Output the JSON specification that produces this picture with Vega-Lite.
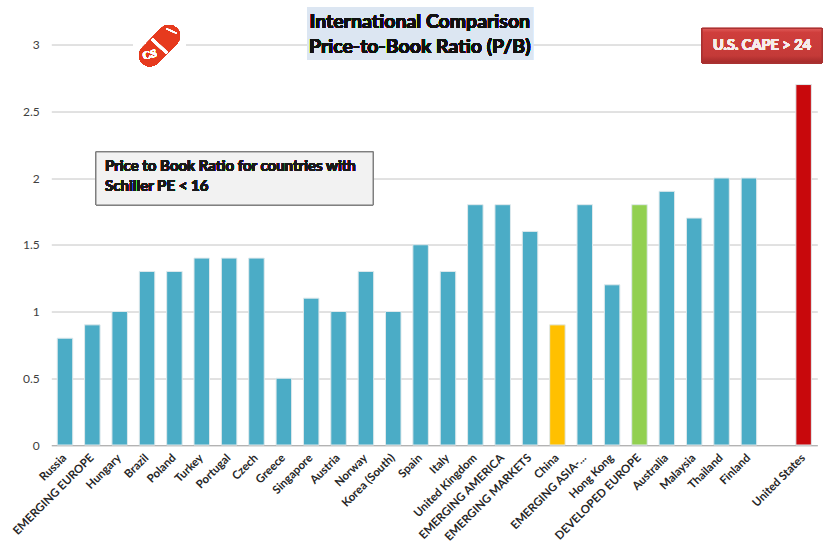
{
"$schema":"https://vega.github.io/schema/vega-lite/v6.json",
"width":766,"height":400.5,
"autosize":{"type":"none"},
"padding":{"left":51.3,"top":44.5,"right":22.7,"bottom":103},
"background":"white",
"config":{"view":{"stroke":null},"font":"Lato"},
"data":{"values":[
{"country":"Russia","pb":0.8,"group":"Country"},
{"country":"EMERGING EUROPE","pb":0.9,"group":"Country"},
{"country":"Hungary","pb":1.0,"group":"Country"},
{"country":"Brazil","pb":1.3,"group":"Country"},
{"country":"Poland","pb":1.3,"group":"Country"},
{"country":"Turkey","pb":1.4,"group":"Country"},
{"country":"Portugal","pb":1.4,"group":"Country"},
{"country":"Czech","pb":1.4,"group":"Country"},
{"country":"Greece","pb":0.5,"group":"Country"},
{"country":"Singapore","pb":1.1,"group":"Country"},
{"country":"Austria","pb":1.0,"group":"Country"},
{"country":"Norway","pb":1.3,"group":"Country"},
{"country":"Korea (South)","pb":1.0,"group":"Country"},
{"country":"Spain","pb":1.5,"group":"Country"},
{"country":"Italy","pb":1.3,"group":"Country"},
{"country":"United Kingdom","pb":1.8,"group":"Country"},
{"country":"EMERGING AMERICA","pb":1.8,"group":"Country"},
{"country":"EMERGING MARKETS","pb":1.6,"group":"Country"},
{"country":"China","pb":0.9,"group":"China"},
{"country":"EMERGING ASIA-...","pb":1.8,"group":"Country"},
{"country":"Hong Kong","pb":1.2,"group":"Country"},
{"country":"DEVELOPED EUROPE","pb":1.8,"group":"Developed Europe"},
{"country":"Australia","pb":1.9,"group":"Country"},
{"country":"Malaysia","pb":1.7,"group":"Country"},
{"country":"Thailand","pb":2.0,"group":"Country"},
{"country":"Finland","pb":2.0,"group":"Country"},
{"country":"United States","pb":2.7,"group":"United States"}
]},
"resolve":{"scale":{"x":"independent"}},
"layer":[
{"mark":{"type":"bar","width":15.5,"stroke":"#dfe9ec","strokeWidth":1},
 "encoding":{
  "x":{"field":"country","type":"nominal","sort":null,
   "scale":{"domain":["Russia","EMERGING EUROPE","Hungary","Brazil","Poland","Turkey","Portugal","Czech","Greece","Singapore","Austria","Norway","Korea (South)","Spain","Italy","United Kingdom","EMERGING AMERICA","EMERGING MARKETS","China","EMERGING ASIA-...","Hong Kong","DEVELOPED EUROPE","Australia","Malaysia","Thailand","Finland"," ","United States"],"paddingInner":0.43,"paddingOuter":0.215},
   "axis":{"title":null,"labelAngle":-45,"labelAlign":"right","labelBaseline":"middle","labelFontSize":11.5,"labelFontWeight":"bold","labelColor":"#262626","labelPadding":11,"labelLimit":200,"labelOverlap":false,"ticks":false,"domain":true,"domainColor":"#b3b3b3","domainWidth":1,"grid":false}},
  "y":{"field":"pb","type":"quantitative","scale":{"domain":[0,3],"nice":false},
   "axis":{"title":null,"values":[0,0.5,1,1.5,2,2.5,3],"labelFontSize":12,"labelColor":"#404040","labelPadding":12,"ticks":false,"domain":false,"grid":true,"gridColor":"#c4c4c4","gridWidth":1,"labelExpr":"datum.value"}},
  "color":{"field":"group","type":"nominal","legend":null,"scale":{"domain":["Country","China","Developed Europe","United States"],"range":["#4bacc6","#ffc000","#92d050","#c8080c"]}}
 }},
{"mark":{"type":"rect","fill":"#dce6f2"},"encoding":{
 "x":{"datum":9.35,"type":"quantitative","scale":{"domain":[0,28]},"axis":null},"x2":{"datum":17.61},
 "y":{"datum":3.281,"type":"quantitative","scale":{"domain":[0,3],"nice":false}},"y2":{"datum":2.884}}},
{"mark":{"type":"text","text":"International Comparison","font":"Lato","fontWeight":"bold","fontSize":19.5,"color":"#111111"},"encoding":{
 "x":{"datum":13.47,"type":"quantitative","scale":{"domain":[0,28]},"axis":null},
 "y":{"datum":3.169,"type":"quantitative","scale":{"domain":[0,3],"nice":false}}}},
{"mark":{"type":"text","text":"Price-to-Book Ratio (P/B)","font":"Lato","fontWeight":"bold","fontSize":19.5,"color":"#111111"},"encoding":{
 "x":{"datum":13.47,"type":"quantitative","scale":{"domain":[0,28]},"axis":null},
 "y":{"datum":2.982,"type":"quantitative","scale":{"domain":[0,3],"nice":false}}}},
{"mark":{"type":"rect","stroke":"#a83232","strokeWidth":1,"fill":{"gradient":"linear","x1":0,"y1":0,"x2":0,"y2":1,"stops":[{"offset":0,"color":"#e05a58"},{"offset":0.12,"color":"#cf3e3c"},{"offset":0.8,"color":"#c43a38"},{"offset":1,"color":"#a52a2a"}]}},"encoding":{
 "x":{"datum":23.79,"type":"quantitative","scale":{"domain":[0,28]},"axis":null},"x2":{"datum":28.17},
 "y":{"datum":3.12,"type":"quantitative","scale":{"domain":[0,3],"nice":false}},"y2":{"datum":2.864}}},
{"mark":{"type":"text","text":"U.S. CAPE > 24","font":"Lato","fontWeight":"bold","fontSize":14.5,"color":"#f7ecec"},"encoding":{
 "x":{"datum":25.98,"type":"quantitative","scale":{"domain":[0,28]},"axis":null},
 "y":{"datum":2.99,"type":"quantitative","scale":{"domain":[0,3],"nice":false}}}},
{"mark":{"type":"rect","fill":"#f2f2f2","stroke":"#7f7f7f","strokeWidth":1},"encoding":{
 "x":{"datum":1.634,"type":"quantitative","scale":{"domain":[0,28]},"axis":null},"x2":{"datum":11.76},
 "y":{"datum":2.195,"type":"quantitative","scale":{"domain":[0,3],"nice":false}},"y2":{"datum":1.798}}},
{"mark":{"type":"text","text":"Price to Book Ratio for countries with","align":"left","font":"Lato","fontWeight":"bold","fontSize":15,"color":"#1a1a1a"},"encoding":{
 "x":{"datum":1.963,"type":"quantitative","scale":{"domain":[0,28]},"axis":null},
 "y":{"datum":2.09,"type":"quantitative","scale":{"domain":[0,3],"nice":false}}}},
{"mark":{"type":"text","text":"Schiller PE < 16","align":"left","font":"Lato","fontWeight":"bold","fontSize":15,"color":"#1a1a1a"},"encoding":{
 "x":{"datum":1.963,"type":"quantitative","scale":{"domain":[0,28]},"axis":null},
 "y":{"datum":1.94,"type":"quantitative","scale":{"domain":[0,3],"nice":false}}}},
{"mark":{"type":"rect","fill":"white"},"encoding":{
 "x":{"datum":2.986,"type":"quantitative","scale":{"domain":[0,28]},"axis":null},"x2":{"datum":4.924},
 "y":{"datum":3.191,"type":"quantitative","scale":{"domain":[0,3],"nice":false}},"y2":{"datum":2.794}}},
{"mark":{"type":"rule","color":"#e63a1e","strokeWidth":22,"strokeCap":"round"},"encoding":{
 "x":{"datum":3.608,"type":"quantitative","scale":{"domain":[0,28]},"axis":null},"x2":{"datum":4.302},
 "y":{"datum":2.918,"type":"quantitative","scale":{"domain":[0,3],"nice":false}},"y2":{"datum":3.064}}},
{"mark":{"type":"rule","color":"white","strokeWidth":2.5},"encoding":{
 "x":{"datum":3.68,"type":"quantitative","scale":{"domain":[0,28]},"axis":null},"x2":{"datum":4.229},
 "y":{"datum":3.041,"type":"quantitative","scale":{"domain":[0,3],"nice":false}},"y2":{"datum":2.936}}},
{"mark":{"type":"rule","color":"white","strokeWidth":1.2,"strokeCap":"round"},"encoding":{
 "x":{"datum":4.23,"type":"quantitative","scale":{"domain":[0,28]},"axis":null},"x2":{"datum":4.56},
 "y":{"datum":3.116,"type":"quantitative","scale":{"domain":[0,3],"nice":false}},"y2":{"datum":3.086}}},
{"mark":{"type":"text","text":"CS","font":"Liberation Serif","fontWeight":"bold","fontSize":11,"angle":345,"color":"white"},"encoding":{
 "x":{"datum":3.6,"type":"quantitative","scale":{"domain":[0,28]},"axis":null},
 "y":{"datum":2.921,"type":"quantitative","scale":{"domain":[0,3],"nice":false}}}}
]
}
